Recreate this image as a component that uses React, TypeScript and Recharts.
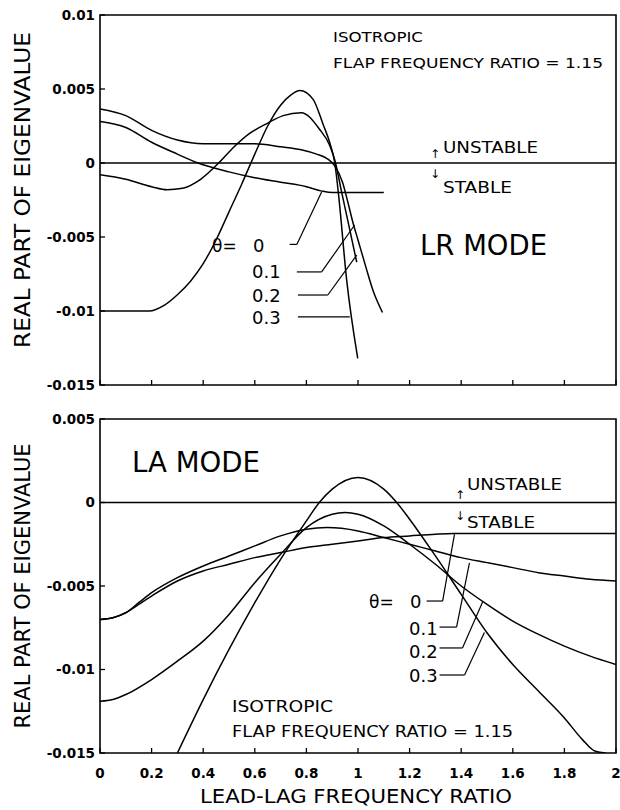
import React from 'react';
import { LineChart, Line, XAxis, YAxis, ReferenceLine, ReferenceArea } from 'recharts';

// ---------- LR mode (top panel) ----------
const lrX0 = [0, 0.1, 0.2, 0.3, 0.38, 0.5, 0.6, 0.7, 0.8, 0.86, 0.9, 1.0, 1.1];
const lrY0 = [0.0028, 0.0024, 0.0014, 0.0006, 0.0, -0.0006, -0.001, -0.0013, -0.0016, -0.0019, -0.002, -0.002, -0.002];

const lrX1 = [0, 0.1, 0.2, 0.3, 0.4, 0.5, 0.6, 0.7, 0.78, 0.84, 0.88, 0.91, 0.94, 0.96, 0.98, 1.0, 1.03, 1.06, 1.095];
const lrY1 = [0.00365, 0.0032, 0.0022, 0.00155, 0.0013, 0.0013, 0.0013, 0.0011, 0.0009, 0.0006, 0.0003, -0.0002, -0.0013, -0.0026, -0.004, -0.0052, -0.007, -0.0087, -0.0101];

const lrX2 = [0, 0.1, 0.2, 0.26, 0.32, 0.39, 0.46, 0.52, 0.58, 0.65, 0.71, 0.78, 0.85, 0.89, 0.91, 0.937, 0.968, 0.995];
const lrY2 = [-0.0008, -0.0011, -0.0016, -0.0018, -0.0017, -0.0011, 0.0, 0.0011, 0.002, 0.0027, 0.0032, 0.0034, 0.0023, 0.0012, 0.0002, -0.002, -0.0045, -0.0067];

const lrX3 = [0, 0.1, 0.19, 0.25, 0.3, 0.35, 0.4, 0.45, 0.5, 0.55, 0.6, 0.65, 0.7, 0.74, 0.775, 0.826, 0.865, 0.89, 0.91, 0.925, 0.956, 0.999];
const lrY3 = [-0.01, -0.01, -0.01, -0.0096, -0.0089, -0.008, -0.0068, -0.0052, -0.0033, -0.0014, 0.0006, 0.0025, 0.0039, 0.0046, 0.0049, 0.0043, 0.0026, 0.0014, 0.0, -0.0022, -0.0079, -0.0132];

// ---------- LA mode (bottom panel) ----------
const laX0 = [0, 0.05, 0.1, 0.15, 0.2, 0.3, 0.4, 0.5, 0.6, 0.7, 0.8, 0.9, 1.0, 1.1, 1.2, 1.3, 1.37, 1.6, 2.0];
const laY0 = [-0.007, -0.0069, -0.0066, -0.0061, -0.0056, -0.0047, -0.0041, -0.0037, -0.0033, -0.003, -0.0027, -0.0025, -0.0023, -0.0021, -0.002, -0.0019, -0.00186, -0.00186, -0.00186];

const laX1 = [0, 0.05, 0.1, 0.15, 0.2, 0.3, 0.4, 0.5, 0.6, 0.7, 0.8, 0.88, 1.0, 1.1, 1.2, 1.3, 1.4, 1.5, 1.6, 1.7, 1.8, 1.9, 2.0];
const laY1 = [-0.007, -0.0069, -0.0066, -0.006, -0.0054, -0.0045, -0.0038, -0.0032, -0.0026, -0.002, -0.0016, -0.0015, -0.0017, -0.0021, -0.0025, -0.0029, -0.0033, -0.0036, -0.0039, -0.0042, -0.0044, -0.0046, -0.0047];

const laX2 = [0, 0.05, 0.1, 0.2, 0.3, 0.4, 0.5, 0.6, 0.7, 0.8, 0.9, 0.95, 1.0, 1.1, 1.2, 1.3, 1.4, 1.5, 1.6, 1.7, 1.8, 1.9, 2.0];
const laY2 = [-0.0119, -0.0118, -0.0115, -0.0106, -0.0095, -0.0083, -0.0067, -0.0048, -0.0031, -0.0015, -0.0007, -0.0006, -0.0007, -0.0014, -0.0025, -0.0037, -0.005, -0.0061, -0.0071, -0.0079, -0.0086, -0.0092, -0.0097];

const laX3 = [0.3, 0.4, 0.5, 0.6, 0.7, 0.8, 0.85, 0.9, 1.0, 1.1, 1.15, 1.2, 1.3, 1.4, 1.5, 1.6, 1.7, 1.8, 1.87, 1.92, 1.96];
const laY3 = [-0.015, -0.0118, -0.0088, -0.006, -0.0034, -0.0011, 0.0, 0.0008, 0.0015, 0.0008, 0.0, -0.001, -0.0032, -0.0055, -0.0078, -0.0097, -0.0113, -0.0129, -0.0142, -0.0149, -0.015];

// ---------- ticks ----------
const xTicks = [0, 0.2, 0.4, 0.6, 0.8, 1, 1.2, 1.4, 1.6, 1.8, 2];
const lrYTicks = [0.01, 0.005, 0, -0.005, -0.01, -0.015];
const laYTicks = [0.005, 0, -0.005, -0.01, -0.015];

// ---------- leader lines (theta labels -> curves) ----------
const lrLeaders = [
  [[0.735, -0.0055], [0.763, -0.0055], [0.859, -0.00196]],
  [[0.763, -0.00736], [0.859, -0.00736], [0.987, -0.00419]],
  [[0.767, -0.00892], [0.883, -0.00892], [0.995, -0.00622]],
  [[0.767, -0.0104], [0.968, -0.0104]],
];
const laLeaders = [
  [[1.266, -0.0059], [1.328, -0.0059], [1.374, -0.00189]],
  [[1.316, -0.00746], [1.382, -0.00746], [1.432, -0.00362]],
  [[1.316, -0.00871], [1.405, -0.00871], [1.483, -0.00596]],
  [[1.316, -0.01033], [1.413, -0.01033], [1.49, -0.00778]],
];

const zip = (xs: number[], ys: number[]) => xs.map((x, i) => ({ x, y: ys[i] }));

const lrSeries = [zip(lrX0, lrY0), zip(lrX1, lrY1), zip(lrX2, lrY2), zip(lrX3, lrY3)];
const laSeries = [zip(laX0, laY0), zip(laX1, laY1), zip(laX2, laY2), zip(laX3, laY3)];

const FONT = '"DejaVu Sans", "Liberation Sans", sans-serif';

const makeXTick = (showLabel: boolean) => (props: any) => {
  const { x, y, payload } = props;
  return (
    <g>
      <line x1={x} y1={y} x2={x} y2={y - 5} stroke="#000" strokeWidth={1.3} />
      {showLabel && (
        <text x={x} y={y + 25} textAnchor="middle" fontFamily={FONT} fontSize={13.5} fontWeight="bold" fill="#000">
          {String(payload.value)}
        </text>
      )}
    </g>
  );
};

const YTick = (props: any) => {
  const { x, y, payload } = props;
  return (
    <g>
      <line x1={x} y1={y} x2={x + 5} y2={y} stroke="#000" strokeWidth={1.3} />
      <text x={x - 5} y={y} dy="0.36em" textAnchor="end" fontFamily={FONT} fontSize={13.5} fontWeight="bold" fill="#000">
        {String(payload.value)}
      </text>
    </g>
  );
};

const renderLeaders = (leaders: number[][][], prefix: string) =>
  leaders.flatMap((pts, i) =>
    pts.slice(1).map((p, j) => (
      <ReferenceLine
        key={`${prefix}-${i}-${j}`}
        segment={[{ x: pts[j][0], y: pts[j][1] }, { x: p[0], y: p[1] }]}
        stroke="#000"
        strokeWidth={1.2}
        ifOverflow="visible"
      />
    ))
  );

const Panel = ({ series, yTicks, yDomain, leaders, prefix, height, margin, xAxisHeight, showXLabels }: any) => (
  <LineChart width={620} height={height} margin={margin}>
    <XAxis
      type="number"
      dataKey="x"
      domain={[0, 2]}
      ticks={xTicks}
      interval={0}
      allowDataOverflow
      axisLine={false}
      tickLine={false}
      tickSize={0}
      tickMargin={0}
      height={xAxisHeight}
      tick={makeXTick(showXLabels)}
    />
    <YAxis
      type="number"
      dataKey="y"
      domain={yDomain}
      ticks={yTicks}
      interval={0}
      allowDataOverflow
      axisLine={false}
      tickLine={false}
      tickSize={0}
      tickMargin={0}
      width={100}
      tick={YTick}
    />
    <ReferenceArea x1={0} x2={2} y1={yDomain[0]} y2={yDomain[1]} fill="none" stroke="#000" strokeWidth={1.6} ifOverflow="visible" />
    <ReferenceLine y={0} stroke="#000" strokeWidth={1.4} />
    {renderLeaders(leaders, prefix)}
    {series.map((d: any, i: number) => (
      <Line
        key={i}
        data={d}
        dataKey="y"
        type="monotone"
        stroke="#000"
        strokeWidth={1.5}
        dot={false}
        activeDot={false}
        isAnimationActive={false}
      />
    ))}
  </LineChart>
);

const T = (p: any) => (
  <text fontFamily={FONT} fill="#000" {...p} />
);

export default function App() {
  return (
    <div style={{ position: 'absolute', left: 0, top: 0, width: 620, height: 810, background: '#fff' }}>
      <div style={{ position: 'absolute', left: 0, top: 0 }}>
        <Panel
          series={lrSeries}
          yTicks={lrYTicks}
          yDomain={[-0.015, 0.01]}
          leaders={lrLeaders}
          prefix="lr"
          height={400}
          margin={{ top: 15, right: 4, bottom: 10, left: 0 }}
          xAxisHeight={5}
          showXLabels={false}
        />
      </div>
      <div style={{ position: 'absolute', left: 0, top: 400 }}>
        <Panel
          series={laSeries}
          yTicks={laYTicks}
          yDomain={[-0.015, 0.005]}
          leaders={laLeaders}
          prefix="la"
          height={410}
          margin={{ top: 19, right: 4, bottom: 27, left: 0 }}
          xAxisHeight={30}
          showXLabels={true}
        />
      </div>
      <svg width={620} height={810} style={{ position: 'absolute', left: 0, top: 0, pointerEvents: 'none' }}>
        {/* axis titles */}
        <T x={0} y={0} fontSize={22} textAnchor="middle" transform="translate(30,190) rotate(-90)" textLength={316} lengthAdjust="spacingAndGlyphs">REAL PART OF EIGENVALUE</T>
        <T x={0} y={0} fontSize={22} textAnchor="middle" transform="translate(30,586) rotate(-90)" textLength={285} lengthAdjust="spacingAndGlyphs">REAL PART OF EIGENVALUE</T>
        <T x={356} y={803} fontSize={20} textAnchor="middle" textLength={312} lengthAdjust="spacingAndGlyphs">LEAD-LAG FREQUENCY RATIO</T>

        {/* top panel annotations */}
        <T x={333} y={42} fontSize={14} textLength={90} lengthAdjust="spacingAndGlyphs">ISOTROPIC</T>
        <T x={333} y={68} fontSize={14} textLength={270} lengthAdjust="spacingAndGlyphs">FLAP FREQUENCY RATIO = 1.15</T>
        <T x={443} y={153} fontSize={15} textLength={95} lengthAdjust="spacingAndGlyphs">UNSTABLE</T>
        <T x={443} y={193} fontSize={15} textLength={69} lengthAdjust="spacingAndGlyphs">STABLE</T>
        <T x={435} y={158} fontSize={12} textAnchor="middle">↑</T>
        <T x={435} y={178} fontSize={12} textAnchor="middle">↓</T>
        <T x={420} y={255} fontSize={29} textLength={127} lengthAdjust="spacingAndGlyphs">LR MODE</T>
        <T x={212} y={252} fontSize={17}>θ=</T>
        <T x={253} y={252} fontSize={18}>0</T>
        <T x={252} y={278} fontSize={18}>0.1</T>
        <T x={252} y={302} fontSize={18}>0.2</T>
        <T x={252} y={324} fontSize={18}>0.3</T>

        {/* bottom panel annotations */}
        <T x={132} y={472} fontSize={28} textLength={128} lengthAdjust="spacingAndGlyphs">LA MODE</T>
        <T x={467} y={490} fontSize={15} textLength={95} lengthAdjust="spacingAndGlyphs">UNSTABLE</T>
        <T x={467} y={528} fontSize={15} textLength={68} lengthAdjust="spacingAndGlyphs">STABLE</T>
        <T x={460} y={499} fontSize={12} textAnchor="middle">↑</T>
        <T x={460} y={520} fontSize={12} textAnchor="middle">↓</T>
        <T x={369} y={608} fontSize={17}>θ=</T>
        <T x={410} y={608} fontSize={18}>0</T>
        <T x={409} y={635} fontSize={18}>0.1</T>
        <T x={409} y={658} fontSize={18}>0.2</T>
        <T x={409} y={682} fontSize={18}>0.3</T>
        <T x={232} y={712} fontSize={15} textLength={101} lengthAdjust="spacingAndGlyphs">ISOTROPIC</T>
        <T x={232} y={737} fontSize={15} textLength={281} lengthAdjust="spacingAndGlyphs">FLAP FREQUENCY RATIO = 1.15</T>
      </svg>
    </div>
  );
}
